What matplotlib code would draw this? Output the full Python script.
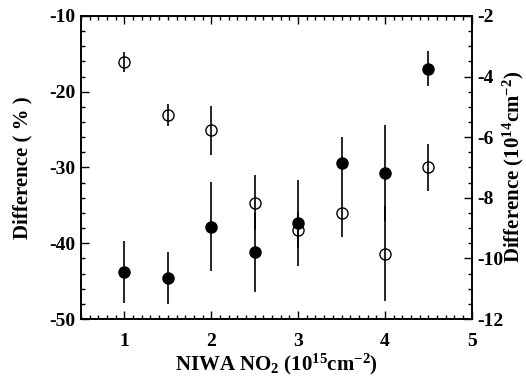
import matplotlib
matplotlib.use("Agg")
from matplotlib import pyplot as plt
from matplotlib.ticker import MultipleLocator

# NIWA NO2 columns (10^15 cm^-2)
niwa_no2 = [1.0, 1.5, 2.0, 2.5, 3.0, 3.5, 4.0, 4.5]

# relative difference (%), filled symbols, left axis
diff_pct = [-43.8, -44.6, -37.8, -41.2, -37.3, -29.4, -30.7, -17.0]
diff_pct_err = [4.1, 3.4, 5.9, 5.2, 5.7, 3.4, 6.3, 2.3]

# absolute difference (10^14 cm^-2), open symbols, right axis
diff_abs = [-3.53, -5.27, -5.78, -8.16, -9.07, -8.49, -9.85, -6.99]
diff_abs_err = [0.33, 0.35, 0.81, 0.91, 0.6, 0.79, 1.57, 0.78]

plt.rcParams["font.family"] = "Liberation Serif"
plt.rcParams["font.weight"] = "bold"
plt.rcParams["axes.unicode_minus"] = False
plt.rcParams["mathtext.fontset"] = "custom"
plt.rcParams["mathtext.rm"] = "Liberation Serif:bold"
plt.rcParams["mathtext.it"] = "Liberation Serif:bold"
plt.rcParams["mathtext.bf"] = "Liberation Serif:bold"

fig = plt.figure(figsize=(5.26, 3.78), dpi=100)
ax = fig.add_axes([0.154, 0.156, 0.743, 0.802])
ax2 = ax.twinx()

# filled symbols on top of the open ones
ax.set_zorder(ax2.get_zorder() + 1)
ax.patch.set_visible(False)

ax2.errorbar(niwa_no2, diff_abs, yerr=diff_abs_err, fmt="o", ms=8,
             mfc="none", mec="black", mew=1.0, ecolor="black",
             elinewidth=1.2, capsize=0, color="black")
ax.errorbar(niwa_no2, diff_pct, yerr=diff_pct_err, fmt="o", ms=8,
            mfc="black", mec="black", ecolor="black",
            elinewidth=1.2, capsize=0, color="black")

ax.set_xlim(0.5, 5)
ax.set_ylim(-50, -10)
ax2.set_ylim(-12, -2)

ax.xaxis.set_major_locator(MultipleLocator(1))
ax.xaxis.set_minor_locator(MultipleLocator(0.1))
ax.yaxis.set_major_locator(MultipleLocator(10))
ax.yaxis.set_minor_locator(MultipleLocator(2))
ax2.yaxis.set_major_locator(MultipleLocator(2))
ax2.yaxis.set_minor_locator(MultipleLocator(0.5))

ax.tick_params(which="both", direction="in", top=True, right=False,
               labelsize=14, width=1.0)
ax.tick_params(axis="y", which="both", pad=4)
ax.tick_params(axis="x", which="both", pad=10)
ax.tick_params(which="major", length=6)
ax.tick_params(which="minor", length=3)
ax2.tick_params(which="both", direction="in", labelsize=14, pad=4, width=1.0)
ax2.tick_params(which="major", length=6)
ax2.tick_params(which="minor", length=3)

for a in (ax, ax2):
    for s in a.spines.values():
        s.set_linewidth(1.2)

ax.set_xlabel("NIWA NO$_2$ (10$^{15}$cm$^{-2}$)", fontsize=15,
              fontweight="bold", labelpad=1)
ax.set_ylabel("Difference ( % )", fontsize=15, fontweight="bold")
ax.yaxis.set_label_coords(-0.125, 0.5)
ax2.set_ylabel("Difference (10$^{14}$cm$^{-2}$)", fontsize=15,
               fontweight="bold")
ax2.yaxis.set_label_coords(1.075, 0.5)

fig.savefig("out.png", dpi=100)
